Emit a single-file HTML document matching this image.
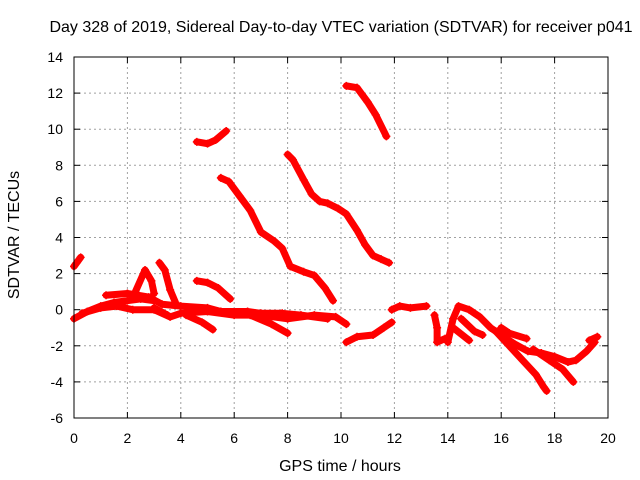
<!DOCTYPE html>
<html><head><meta charset="utf-8"><style>
body{margin:0;background:#fff}
svg{display:block;font-family:"Liberation Sans",sans-serif}
</style></head><body>
<svg id="chart" width="640" height="480">
<rect width="640" height="480" fill="#fff"/>
<text x="341" y="32" font-size="16" text-anchor="middle">Day 328 of 2019, Sidereal Day-to-day VTEC variation (SDTVAR) for receiver p041</text>
<text x="340" y="471" font-size="16" text-anchor="middle">GPS time / hours</text>
<text x="19" y="235" font-size="16" text-anchor="middle" transform="rotate(-90 19 235)">SDTVAR / TECUs</text>
<g id="grid"></g><g id="ticks"></g><g id="marks"></g>
<rect x="74" y="57" width="534" height="361" fill="none" stroke="#000" stroke-width="1"/>
</svg>
<script>
const xTicks=[0,2,4,6,8,10,12,14,16,18,20];
const yTicks=[-6,-4,-2,0,2,4,6,8,10,12,14];
const tracks=[
[[0,2.4],[0.1,2.6],[0.25,2.9]],
[[4.6,9.3],[5.0,9.2],[5.3,9.4],[5.7,9.9]],
[[10.2,12.4],[10.6,12.3],[11.0,11.5],[11.3,10.8],[11.7,9.6]],
[[5.5,7.3],[5.8,7.1],[6.2,6.3],[6.6,5.5],[7.0,4.3],[7.5,3.8],[7.8,3.4],[8.1,2.4],[8.6,2.1],[9.0,1.9],[9.4,1.2],[9.7,0.5]],
[[8.0,8.6],[8.2,8.3],[8.6,7.2],[8.9,6.4],[9.2,6.0],[9.5,5.9],[9.9,5.6],[10.2,5.3],[10.6,4.4],[10.9,3.6],[11.2,3.0],[11.5,2.8],[11.8,2.6]],
[[2.3,1.0],[2.66,2.2],[2.9,1.6],[3.0,0.9]],
[[3.2,2.6],[3.4,2.2],[3.6,1.1],[3.8,0.4]],
[[4.6,1.6],[5.0,1.5],[5.4,1.2],[5.85,0.6]],
[[0,-0.5],[0.5,-0.1],[1,0.2],[1.5,0.4],[2,0.5],[2.5,0.6],[3,0.5]],
[[0.3,-0.2],[1,0.1],[1.6,0.2],[2.2,0.0],[3,0.0],[3.6,-0.4],[4,-0.2],[5,-0.1],[6,-0.3],[7,-0.3],[8,-0.5],[9,-0.3],[9.8,-0.4],[10.2,-0.8]],
[[1.2,0.8],[2,0.9],[2.8,0.7],[3.3,0.3],[4,0.2],[5,0.1],[5.5,-0.1],[6.5,-0.1],[7,-0.2],[7.8,-0.2],[8.5,-0.3],[9.5,-0.5]],
[[4.2,-0.3],[4.8,-0.7],[5.2,-1.1]],
[[6.6,-0.3],[7.4,-0.8],[8,-1.3]],
[[3.0,0.1],[3.5,-0.3]],
[[10.2,-1.8],[10.6,-1.5],[11.2,-1.4],[11.6,-1.0],[11.9,-0.7]],
[[11.9,0.0],[12.2,0.2],[12.6,0.1],[13.2,0.2]],
[[13.5,-0.3],[13.6,-1.0],[13.6,-1.8],[13.9,-1.6]],
[[14.0,-1.8],[14.2,-0.5],[14.4,0.2],[14.8,0.0],[15.2,-0.4],[15.6,-1.0],[16.0,-1.4],[16.5,-1.9],[17.0,-2.3],[17.5,-2.4],[18.0,-2.6],[18.5,-2.9],[18.8,-2.8],[19.2,-2.3],[19.5,-1.8]],
[[15.8,-1.2],[16.3,-2.0],[16.8,-2.8],[17.3,-3.6],[17.6,-4.3],[17.7,-4.5]],
[[14.5,-0.5],[15.0,-1.2],[15.3,-1.4]],
[[17.2,-2.2],[17.8,-2.8],[18.3,-3.3],[18.7,-4.0]],
[[16.0,-1.0],[16.3,-1.3],[16.95,-1.6]],
[[19.3,-1.7],[19.6,-1.5]],
[[14.2,-1.0],[14.8,-1.7]]
];
const NS="http://www.w3.org/2000/svg";
const X=t=>74+(t-0)*(534/20);
const Y=v=>418-(v+6)*(361/20);
const mk=(tag,at,parent)=>{const e=document.createElementNS(NS,tag);for(const k in at)e.setAttribute(k,at[k]);parent.appendChild(e);return e;};
const grid=document.getElementById('grid'),ticks=document.getElementById('ticks'),marks=document.getElementById('marks');
xTicks.forEach(t=>{
  if(t>0&&t<20){const g=mk('line',{x1:X(t),x2:X(t),y1:57,y2:418,stroke:'#a0a0a0','stroke-dasharray':'2,3'},grid);
  
  }
  mk('line',{x1:X(t),x2:X(t),y1:418,y2:412,stroke:'#000'},ticks);
  mk('line',{x1:X(t),x2:X(t),y1:57,y2:63,stroke:'#000'},ticks);
  const l=mk('text',{x:X(t),y:443,'font-size':14,'text-anchor':'middle'},ticks);l.textContent=t;
  
  
});
yTicks.forEach(v=>{
  if(v>-6&&v<14){const g=mk('line',{x1:74,x2:608,y1:Y(v),y2:Y(v),stroke:'#a0a0a0','stroke-dasharray':'2,3'},grid);
  
  }
  mk('line',{x1:74,x2:80,y1:Y(v),y2:Y(v),stroke:'#000'},ticks);
  mk('line',{x1:608,x2:602,y1:Y(v),y2:Y(v),stroke:'#000'},ticks);
  const l=mk('text',{x:63,y:Y(v)+5,'font-size':14,'text-anchor':'end'},ticks);l.textContent=v;
  
  
});
tracks.forEach((tr,i)=>{
  const p=mk('polyline',{points:tr.map(d=>X(d[0])+','+Y(d[1])).join(' '),fill:'none',stroke:'#ff0000','stroke-width':7,'stroke-linejoin':'round','stroke-linecap':'round'},marks);
  
  
  tr.forEach(d=>{
    const m=mk('path',{d:`M${X(d[0])-4},${Y(d[1])}h8M${X(d[0])},${Y(d[1])-4}v8`,stroke:'#ff0000','stroke-width':1.5},marks);
    
    
  });
});
</script>
</body></html>
